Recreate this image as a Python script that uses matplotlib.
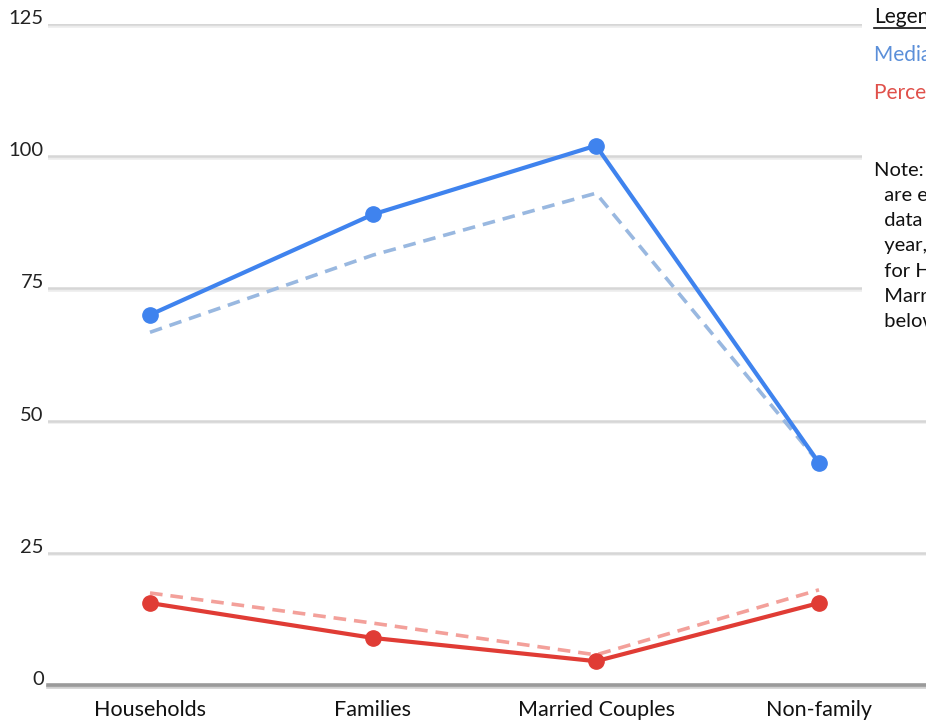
import matplotlib
matplotlib.use("Agg")
import matplotlib.pyplot as plt
import matplotlib.patheffects as pe
from matplotlib.patches import Rectangle

plt.rcParams['font.family'] = ['Lato', 'DejaVu Sans']

# Categories and series
categories = ["Households", "Families", "Married Couples", "Non-family"]
median_income = [70, 89, 102, 42]
median_income_prev = [66.7, 81.3, 93, 42]
poverty_pct = [15.5, 8.9, 4.5, 15.5]
poverty_pct_prev = [17.4, 11.7, 5.7, 18]
y_ticks = [0, 25, 50, 75, 100, 125]

W, H = 926, 721
fig = plt.figure(figsize=(W / 100, H / 100), dpi=100)
fig.patch.set_facecolor("white")

# plot area: y=0 at pixel 685, y=125 at pixel 24
ax = fig.add_axes([48 / W, (H - 685) / H, (W - 48) / W, 661 / H])
ax.set_facecolor("white")
x = list(range(len(categories)))
# categories centred at pixels 150, 373, 596, 819
left = -(150 - 48) / 223
right = left + (W - 48) / 223
ax.set_xlim(left, right)
ax.set_ylim(0, 125)

for s in ax.spines.values():
    s.set_visible(False)
ax.set_xticks([])
ax.set_yticks([])

# horizontal gridlines with a soft shadow
for t in y_ticks:
    if t == 0:
        ax.axhline(t, color="#9a9a9a", lw=2.6, zorder=1,
                   path_effects=[pe.SimpleLineShadow(offset=(0, -1.5), shadow_color="#cfcfcf", alpha=1),
                                 pe.Normal()], clip_on=False)
    else:
        ax.axhline(t, color="#d6d6d6", lw=1.8, zorder=1,
                   path_effects=[pe.SimpleLineShadow(offset=(0, -1.2), shadow_color="#ececec", alpha=1),
                                 pe.Normal()])
    ax.annotate(str(t), xy=(0, t), xycoords=("axes fraction", "data"),
                xytext=(-3, 0), textcoords="offset points",
                ha="right", va="baseline", fontsize=14.5, color="#222222")

for i, c in enumerate(categories):
    ax.annotate(c, xy=(i, 0), xycoords="data", xytext=(0, -11), textcoords="offset points",
                ha="center", va="top", fontsize=15.5, color="#111111")

blue = "#3f83ee"
blue_light = "#99b8e0"
red = "#e03c35"
red_light = "#f3a09a"

ax.plot(x, median_income_prev, color=blue_light, lw=2.6, ls=(0, (3.5, 2.2)), zorder=3, clip_on=False)
ax.plot(x, median_income, color=blue, lw=3.0, marker="o", ms=11, zorder=4, clip_on=False)
ax.plot(x, poverty_pct_prev, color=red_light, lw=2.6, ls=(0, (3.5, 2.2)), zorder=3, clip_on=False)
ax.plot(x, poverty_pct, color=red, lw=3.0, marker="o", ms=11, zorder=4, clip_on=False)

# legend / notes panel on the right
fig.patches.append(Rectangle((862 / W, (H - 340) / H), (W - 862) / W, 340 / H,
                             transform=fig.transFigure, facecolor="white", edgecolor="none", zorder=5))

fx = 874 / W
fig.text(fx, 1 - 17 / H, "Legend", fontsize=15, color="#111111", va="center", ha="left", zorder=6)
fig.add_artist(plt.Line2D([fx, 1.0], [1 - 28 / H, 1 - 28 / H], color="#111111", lw=1.2,
                          transform=fig.transFigure, zorder=6))
fig.text(fx, 1 - 55 / H, "Median Income ($K)", fontsize=15, color="#5b8fd9", va="center", ha="left", zorder=6)
fig.text(fx, 1 - 93 / H, "Percent in Poverty", fontsize=15, color="#e0504a", va="center", ha="left", zorder=6)

note_lines = ["Note: Dashed lines", "  are estimates from", "  data of a prior", "  year, shown only",
              "  for Households and", "  Married Couples", "  below."]
for k, line in enumerate(note_lines):
    fig.text(fx, 1 - (170 + k * 25.3) / H, line, fontsize=14.5, color="#111111",
             va="center", ha="left", zorder=6)

fig.savefig("out.png", dpi=100, facecolor="white")
